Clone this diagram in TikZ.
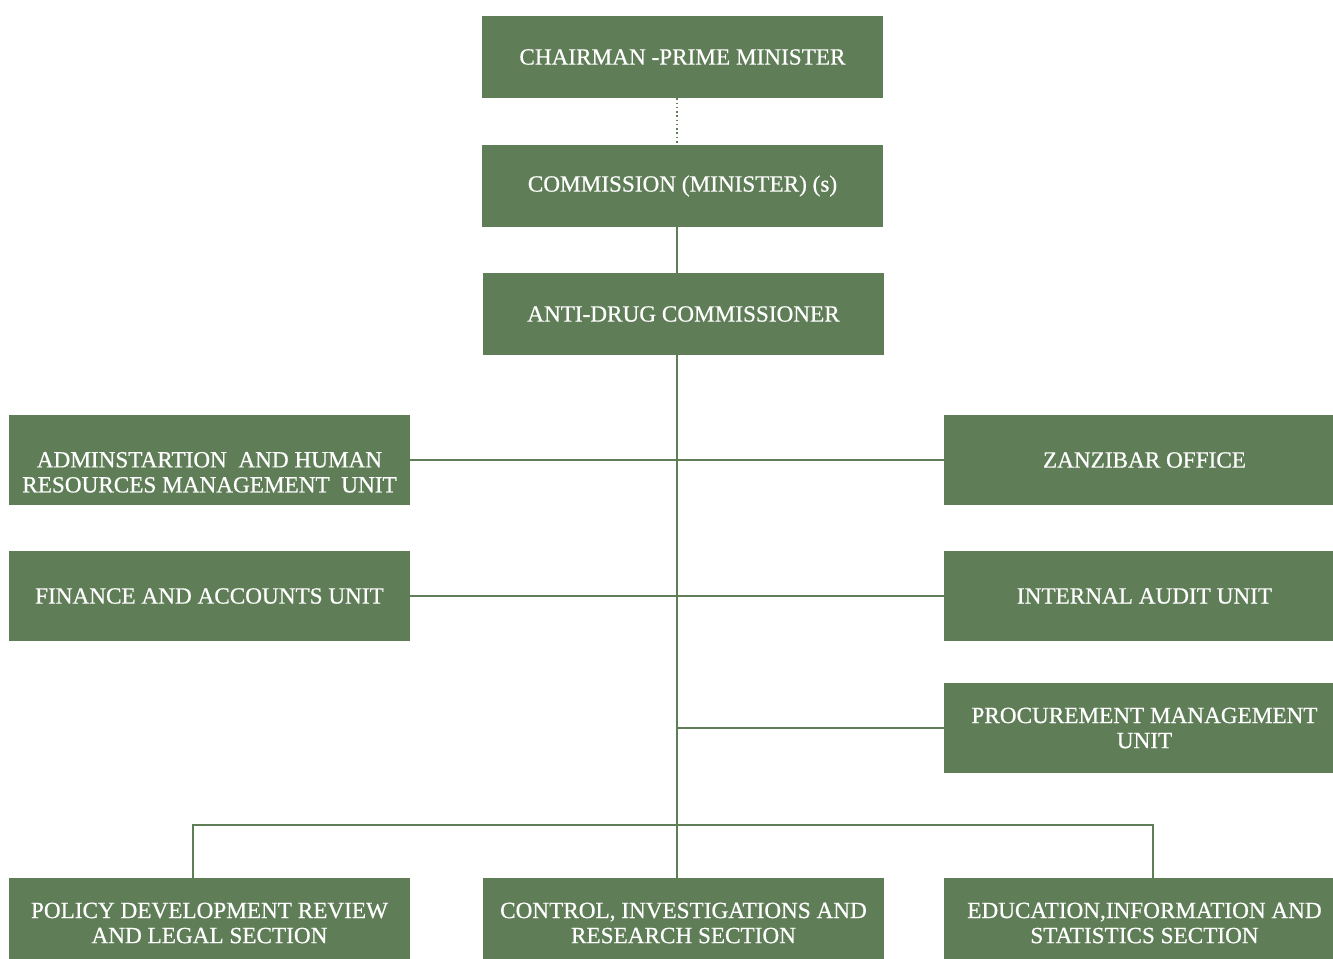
\documentclass[tikz,border=0pt]{standalone}
\usepackage{fontspec}
\setmainfont{Liberation Serif}
\newfontfamily\unitfont[FakeBold=0.6]{Liberation Serif}
\usetikzlibrary{positioning}
\definecolor{unitgreen}{HTML}{5F7D57}
\tikzset{
  unit/.style={fill=unitgreen,text=white,inner sep=0pt,align=center,
    minimum width=401*0.75pt,minimum height=90*0.75pt,
    font=\unitfont\fontsize{17.4}{18.8}\selectfont},
  link/.style={draw=unitgreen,line width=1.5pt}
}
\begin{document}
\begin{tikzpicture}[x=0.75pt,y=-0.75pt]
  \useasboundingbox (0,0) rectangle (1333,958);
  % top of the chart
  \node[unit,minimum height=82*0.75pt] (cmr) at (682.5,57) {CHAIRMAN -PRIME MINISTER};
  \node[unit,minimum height=82*0.75pt] (com) at (682.5,186) {COMMISSION (MINISTER) (s)};
  \node[unit,minimum height=82*0.75pt] (adc) at (683.5,314) {ANTI-DRUG COMMISSIONER};
  % units left and right
  \node[unit] (adm) at (209.5,460) {\rule{0pt}{30pt}ADMINSTARTION\ \ AND HUMAN\\RESOURCES MANAGEMENT\ \ UNIT};
  \node[unit] (fin) at (209.5,596) {FINANCE AND ACCOUNTS UNIT};
  \node[unit] (zan) at (1144.5,460) {ZANZIBAR OFFICE};
  \node[unit] (aud) at (1144.5,596) {INTERNAL AUDIT UNIT};
  \node[unit] (pro) at (1144.5,728) {PROCUREMENT MANAGEMENT\\UNIT};
  % sections
  \node[unit] (pol) at (209.5,923) {POLICY DEVELOPMENT REVIEW\\AND LEGAL SECTION};
  \node[unit] (ctl) at (683.5,923) {CONTROL, INVESTIGATIONS AND\\RESEARCH SECTION};
  \node[unit] (edu) at (1144.5,923) {EDUCATION,INFORMATION AND\\STATISTICS SECTION};
  \coordinate (trunk) at (677,0);
  \coordinate (busL) at (193,825);
  \coordinate (busR) at (1153,825);
  % connectors
  \draw[unitgreen,line width=1.2pt,dotted] (cmr.south -| trunk) -- (com.north -| trunk);
  \draw[link] (com.south -| trunk) -- (adc.north -| trunk);
  \draw[link] (adc.south -| trunk) -- (ctl.north -| trunk);
  \draw[link] (adm.east) -- (zan.west);
  \draw[link] (fin.east) -- (aud.west);
  \draw[link] (pro.west) -- (pro.west -| trunk);
  \draw[link] (busL |- pol.north) -- (busL) -- (busR) -- (busR |- edu.north);
\end{tikzpicture}
\end{document}
